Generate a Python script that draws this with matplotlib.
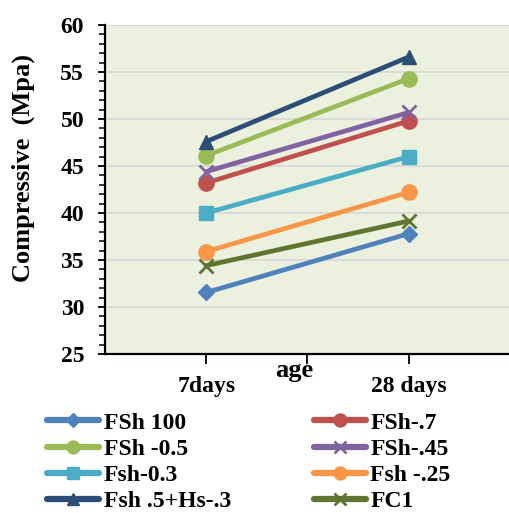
import matplotlib
matplotlib.use("Agg")
import matplotlib.pyplot as plt
from matplotlib.ticker import MultipleLocator

categories = ["7days", "28 days"]
series_names = ["FSh 100", "FSh-.7", "FSh -0.5", "FSh-.45", "Fsh-0.3", "Fsh -.25", "Fsh .5+Hs-.3", "FC1"]
fsh100 = [31.55, 37.8]
fsh07 = [43.2, 49.8]
fsh05 = [46.1, 54.3]
fsh045 = [44.4, 50.7]
fsh03 = [40.0, 46.0]
fsh025 = [35.9, 42.2]
fsh05hs = [47.6, 56.6]
fc1 = [34.4, 39.15]
values = [fsh100, fsh07, fsh05, fsh045, fsh03, fsh025, fsh05hs, fc1]

colors = ["#4F81BD", "#C0504D", "#9BBB59", "#8064A2", "#4BACC6", "#F79646", "#2C4D75", "#5F7530"]
markers = ["D", "o", "o", "x", "s", "o", "^", "x"]
msizes = [8, 11, 11, 10, 10, 11, 10, 10]

plt.rcParams['font.family'] = ['Liberation Serif', 'DejaVu Serif']
plt.rcParams['font.weight'] = 'bold'

fig = plt.figure(figsize=(5.10, 5.13), dpi=100)
ax = fig.add_axes([105/510, 159/513, 405/510, 329/513])
ax.set_facecolor("#EBF1DE")

x = list(range(len(categories)))
for name, vals, c, m, ms in zip(series_names, values, colors, markers, msizes):
    ax.plot(x, vals, color=c, marker=m, markersize=ms, lw=3.4, label=name,
            markeredgewidth=2 if m == "x" else 1, markeredgecolor=c, solid_capstyle='round')

ax.set_xlim(-0.5, 1.5)
ax.set_ylim(25, 60)
ax.yaxis.set_major_locator(MultipleLocator(5))
ax.yaxis.set_minor_locator(MultipleLocator(1))
ax.set_xticks(x)
ax.set_xticklabels(categories, fontsize=17, fontweight='bold')
ax.set_xticks([0.5], minor=True)
ax.tick_params(axis='x', which='both', length=7, width=1.3, direction='out', pad=9)
ax.tick_params(axis='y', which='major', length=5, width=1.3, labelsize=17, pad=10)
ax.tick_params(axis='y', which='minor', length=4.5, width=1.1)
for lbl in ax.get_yticklabels():
    lbl.set_fontweight('bold')
ax.grid(axis='y', which='major', color='#D9D9D9', lw=1.3)
ax.set_axisbelow(True)
for s in ['top', 'right']:
    ax.spines[s].set_visible(False)
ax.spines['left'].set_linewidth(1.6)
ax.spines['bottom'].set_linewidth(1.6)

fig.text(23/510, 1 - 168/513, "Compressive  (Mpa)", rotation=90, ha='center', va='center',
         fontsize=19, fontweight='bold')
fig.text(294/510, 1 - 370/513, "age", ha='center', va='center', fontsize=19, fontweight='bold')

handles, labels = ax.get_legend_handles_labels()
order = [0, 2, 4, 6, 1, 3, 5, 7]
leg = fig.legend([handles[i] for i in order], [labels[i] for i in order], ncol=2,
                 loc='upper left', bbox_to_anchor=(47/510, 1 - 412/513),
                 frameon=False, fontsize=17, handlelength=2.2, columnspacing=3.5,
                 labelspacing=0.2, handletextpad=0.2, borderaxespad=0, borderpad=0)
for t in leg.get_texts():
    t.set_fontweight('bold')
for h in leg.legend_handles:
    h.set_linewidth(4.5)
    h.set_markersize(h.get_markersize() * 0.85)

fig.savefig("out.png", dpi=100)
